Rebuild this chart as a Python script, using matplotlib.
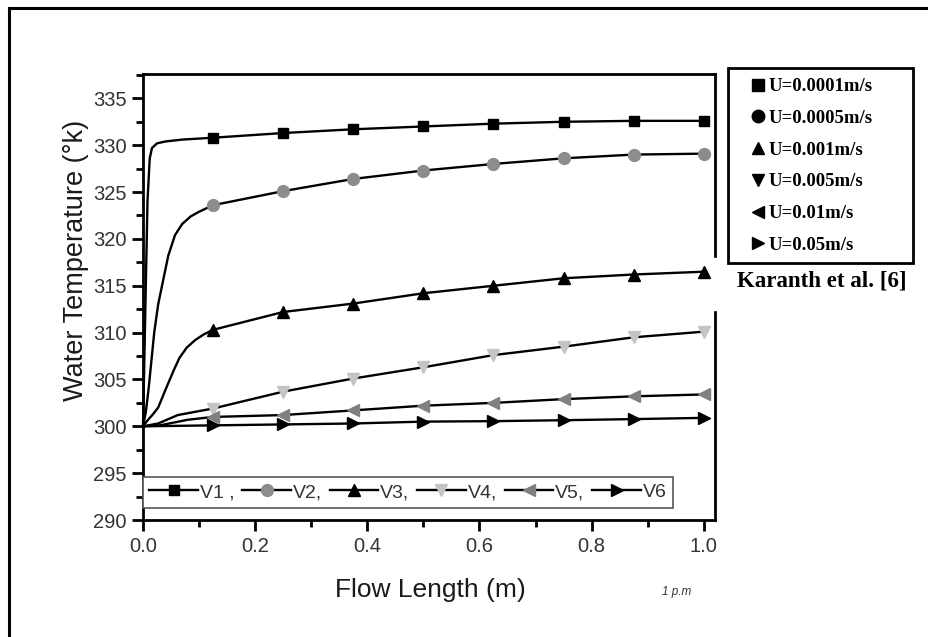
import numpy as np
import matplotlib
matplotlib.use("Agg")
import matplotlib.pyplot as plt
from matplotlib.lines import Line2D
from matplotlib.patches import Rectangle
from matplotlib.ticker import MultipleLocator, FormatStrFormatter

plt.rcParams["font.family"] = ["Liberation Sans", "DejaVu Sans"]

# values
marker_x = [0.125, 0.25, 0.375, 0.5, 0.625, 0.75, 0.875, 1.0]

v1_x = [0, 0.004, 0.008, 0.012, 0.016, 0.025, 0.04, 0.07, 0.125, 0.25, 0.375, 0.5, 0.625, 0.75, 0.875, 1.0]
v1_t = [300, 312, 324, 328.6, 329.7, 330.2, 330.4, 330.6, 330.8, 331.3, 331.7, 332.0, 332.3, 332.5, 332.6, 332.6]

v2_x = [0, 0.005, 0.01, 0.015, 0.02, 0.027, 0.036, 0.045, 0.057, 0.07, 0.085, 0.1, 0.125,
        0.25, 0.375, 0.5, 0.625, 0.75, 0.875, 1.0]
v2_t = [300, 301.5, 304, 307, 310, 313, 315.6, 318.2, 320.4, 321.6, 322.4, 322.9, 323.6,
        325.1, 326.4, 327.3, 328.0, 328.6, 329.0, 329.1]

v3_x = [0, 0.009, 0.018, 0.027, 0.036, 0.045, 0.055, 0.065, 0.078, 0.093, 0.108, 0.125,
        0.25, 0.375, 0.5, 0.625, 0.75, 0.875, 1.0]
v3_t = [300, 300.7, 301.3, 302.0, 303.3, 304.6, 306.0, 307.3, 308.4, 309.2, 309.8, 310.3,
        312.2, 313.1, 314.2, 315.0, 315.8, 316.2, 316.5]

v4_x = [0, 0.027, 0.062, 0.125, 0.25, 0.375, 0.5, 0.625, 0.75, 0.875, 1.0]
v4_t = [300, 300.3, 301.2, 301.9, 303.7, 305.1, 306.3, 307.6, 308.5, 309.5, 310.1]

v5_x = [0, 0.03, 0.08, 0.125, 0.25, 0.375, 0.5, 0.625, 0.75, 0.875, 1.0]
v5_t = [300, 300.1, 300.7, 301.0, 301.2, 301.7, 302.2, 302.5, 302.9, 303.2, 303.4]

v6_x = [0, 0.125, 0.25, 0.375, 0.5, 0.625, 0.75, 0.875, 1.0]
v6_t = [300, 300.1, 300.2, 300.3, 300.5, 300.55, 300.65, 300.77, 300.9]

labels = ["V1 ,", "V2,", "V3,", "V4,", "V5,", "V6"]
markers = ["s", "o", "^", "v", "<", ">"]
marker_colors = ["black", "#8c8c8c", "black", "#c4c4c4", "#808080", "black"]
marker_sizes = [7.5, 8.5, 9, 9, 9, 9]

ref_labels = ["U=0.0001m/s", "U=0.0005m/s", "U=0.001m/s", "U=0.005m/s", "U=0.01m/s", "U=0.05m/s"]
ref_note = "Karanth et al. [6]"

W, H = 929, 637
fig = plt.figure(figsize=(W / 100, H / 100), dpi=100)
ax = fig.add_axes([143 / W, 1 - 520 / H, 572 / W, 446 / H])

series = [(v1_x, v1_t), (v2_x, v2_t), (v3_x, v3_t), (v4_x, v4_t), (v5_x, v5_t), (v6_x, v6_t)]
handles = []
for (xs, ts), lab, m, mc, ms in zip(series, labels, markers, marker_colors, marker_sizes):
    xs = np.asarray(xs)
    idx = np.where(np.isin(xs, marker_x))[0].tolist()
    h, = ax.plot(xs, ts, color="black", lw=1.7, marker=m, markersize=ms,
                 markerfacecolor=mc, markeredgecolor=mc, markevery=idx,
                 label=lab, clip_on=False, zorder=3)
    handles.append(h)

ax.set_xlim(0, 1.02)
ax.set_ylim(290, 337.6)
ax.xaxis.set_major_locator(MultipleLocator(0.2))
ax.xaxis.set_minor_locator(MultipleLocator(0.1))
ax.xaxis.set_major_formatter(FormatStrFormatter("%.1f"))
ax.yaxis.set_major_locator(MultipleLocator(5))
ax.yaxis.set_minor_locator(MultipleLocator(2.5))
ax.tick_params(which="major", direction="out", length=8, width=2, labelsize=14.5,
               labelcolor="#333333", pad=4)
ax.tick_params(which="minor", direction="out", length=5, width=2)
for sp in ax.spines.values():
    sp.set_linewidth(2)

ax.set_xlabel("Flow Length (m)", fontsize=19, color="#1a1a1a")
ax.set_ylabel("Water Temperature (°k)", fontsize=19.5, color="#1a1a1a")
ax.xaxis.set_label_coords(0.502, -0.13)
ax.yaxis.set_label_coords(-0.094, 0.583)

leg = ax.legend(handles=handles, loc="lower left", bbox_to_anchor=(0.0, 0.028),
                ncol=6, fontsize=14, handlelength=2.5, handletextpad=0.1,
                columnspacing=0.4, borderaxespad=0, borderpad=0.33,
                fancybox=False, framealpha=1, edgecolor="#555555")
leg.get_frame().set_linewidth(1.2)
for t in leg.get_texts():
    t.set_color("#333333")

fig.text(677 / W, 1 - 592 / H, "1 p.m", fontsize=8.5, style="italic",
         color="#333333", ha="center", va="center")

# reference legend box on the right
fig.add_artist(Rectangle((728 / W, 1 - 263 / H), 185 / W, 195 / H,
                         transform=fig.transFigure, fill=False, lw=2,
                         edgecolor="black", zorder=6))
ref_handles = [Line2D([], [], ls="none", marker=m, color="black", markersize=9)
               for m in markers]
serif = {"family": ["Liberation Serif", "DejaVu Serif"], "weight": "bold", "size": 13.5}
fig.legend(handles=ref_handles, labels=ref_labels, loc="upper left",
           bbox_to_anchor=(751 / W, 1 - 78 / H), frameon=False, prop=serif,
           handlelength=0.7, handletextpad=0.25, labelspacing=0.78,
           borderpad=0, borderaxespad=0)

# gap in the right spine behind the note
fig.add_artist(Rectangle((712 / W, 1 - 310 / H), 210 / W, 52 / H,
                         transform=fig.transFigure, color="white", zorder=5))
fig.text(822 / W, 1 - 281 / H, ref_note, fontsize=16.5, ha="center", va="center",
         family=["Liberation Serif", "DejaVu Serif"], weight="bold", zorder=7)

# outer frame (top and left only)
fig.add_artist(Line2D([9 / W, 9 / W], [0, 1 - 8 / H], transform=fig.transFigure,
                      color="black", lw=2.2))
fig.add_artist(Line2D([9 / W, 1], [1 - 8 / H, 1 - 8 / H], transform=fig.transFigure,
                      color="black", lw=2.2))

fig.savefig("out.png", dpi=100)
